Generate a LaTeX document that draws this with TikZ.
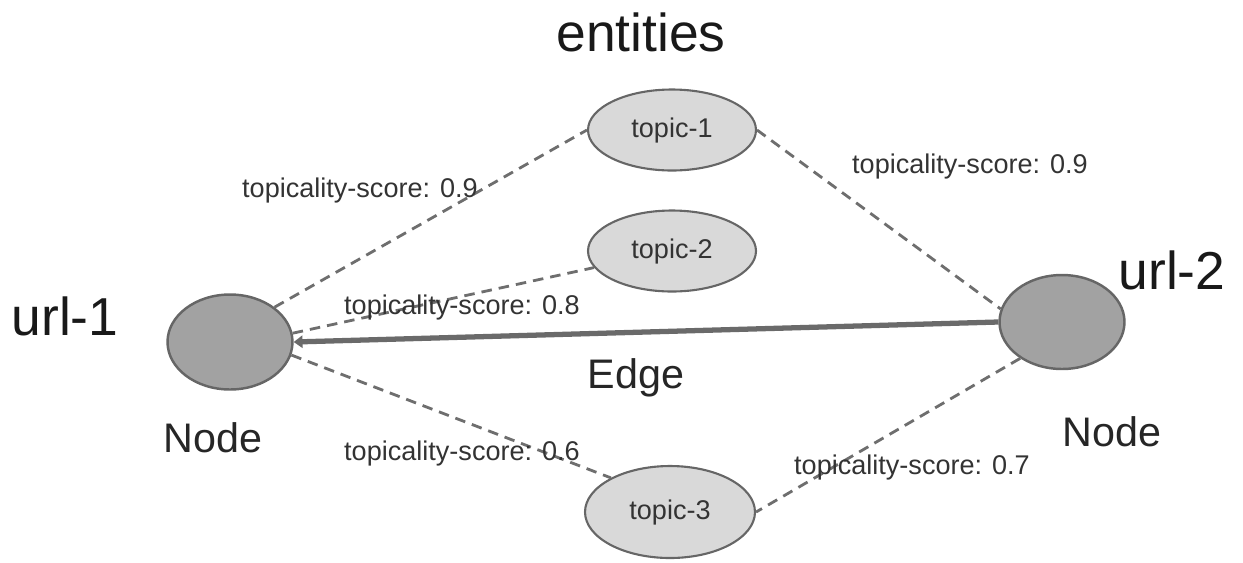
\documentclass[tikz,border=0pt]{standalone}
\usepackage{fontspec}
\setmainfont{Liberation Sans}
\usetikzlibrary{shapes.geometric,arrows.meta}
\definecolor{bignode}{HTML}{A2A2A2}
\definecolor{topicfill}{HTML}{D9D9D9}
\definecolor{rim}{HTML}{666666}
\definecolor{linkgray}{HTML}{6E6E6E}
\definecolor{edgegray}{HTML}{6A6A6A}
\definecolor{labelgray}{HTML}{333333}
\tikzset{
  urlnode/.style={ellipse, draw=rim, line width=1.4pt, fill=bignode,
    minimum width=2.5cm, minimum height=1.9cm, inner sep=0pt},
  topicnode/.style={ellipse, draw=rim, line width=1.2pt, fill=topicfill,
    minimum width=3.36cm, minimum height=1.62cm, inner sep=0pt,
    text=labelgray, font=\fontsize{15.4}{18}\selectfont},
  scorelink/.style={draw=linkgray, line width=1.6pt, dash pattern=on 6pt off 4pt},
  mainedge/.style={draw=edgegray, line width=3pt,
    -{Triangle[length=5pt,width=7pt]}},
  scorelabel/.style={text=labelgray, font=\fontsize{15.4}{18}\selectfont, inner sep=0pt},
  biglabel/.style={text=black!90, font=\fontsize{30.4}{34}\selectfont, inner sep=0pt},
  midlabel/.style={text=black!85, font=\fontsize{23.5}{27}\selectfont, inner sep=0pt}
}
\begin{document}
\begin{tikzpicture}[x=0.02cm, y=-0.02cm]
\useasboundingbox (0,0) rectangle (1243,562);

% graph nodes
\node[urlnode] (u1) at (230,342) {};
\node[urlnode, minimum height=1.88cm] (u2) at (1062,322) {};
\node[topicnode] (t1) at (672,130) {topic-1};
\node[topicnode] (t2) at (672,251) {topic-2};
\node[topicnode, minimum width=3.4cm, minimum height=1.84cm] (t3) at (670,512) {topic-3};

% topicality links
\draw[scorelink] (u1.38) -- (t1.west);
\draw[scorelink] (u1.8) -- (t2.192);
\draw[scorelink] (u1.-12) -- (t3.150);
\draw[scorelink] (t1.east) -- (u2.168);
\draw[scorelink] (u2.221) -- (t3.east);

% the edge between the two url nodes
\draw[mainedge] (u2.west) -- (u1.east);

% labels
\node[biglabel] (ent) at (641,32) {entities};
\node[biglabel] (l1) at (65,316) {url-1};
\node[biglabel] (l2) at (1172,270) {url-2};
\node[midlabel] (n1) at (213,438) {Node};
\node[midlabel] (n2) at (1112,432) {Node};
\node[midlabel] (ed) at (636,378) {Edge};

\node[scorelabel] (s1) at (360,190) {topicality-score: 0.9};
\node[scorelabel] (s2) at (970,166) {topicality-score: 0.9};
\node[scorelabel] (s3) at (462,307) {topicality-score: 0.8};
\node[scorelabel] (s4) at (462,453) {topicality-score: 0.6};
\node[scorelabel] (s5) at (912,467) {topicality-score: 0.7};
\end{tikzpicture}
\end{document}
